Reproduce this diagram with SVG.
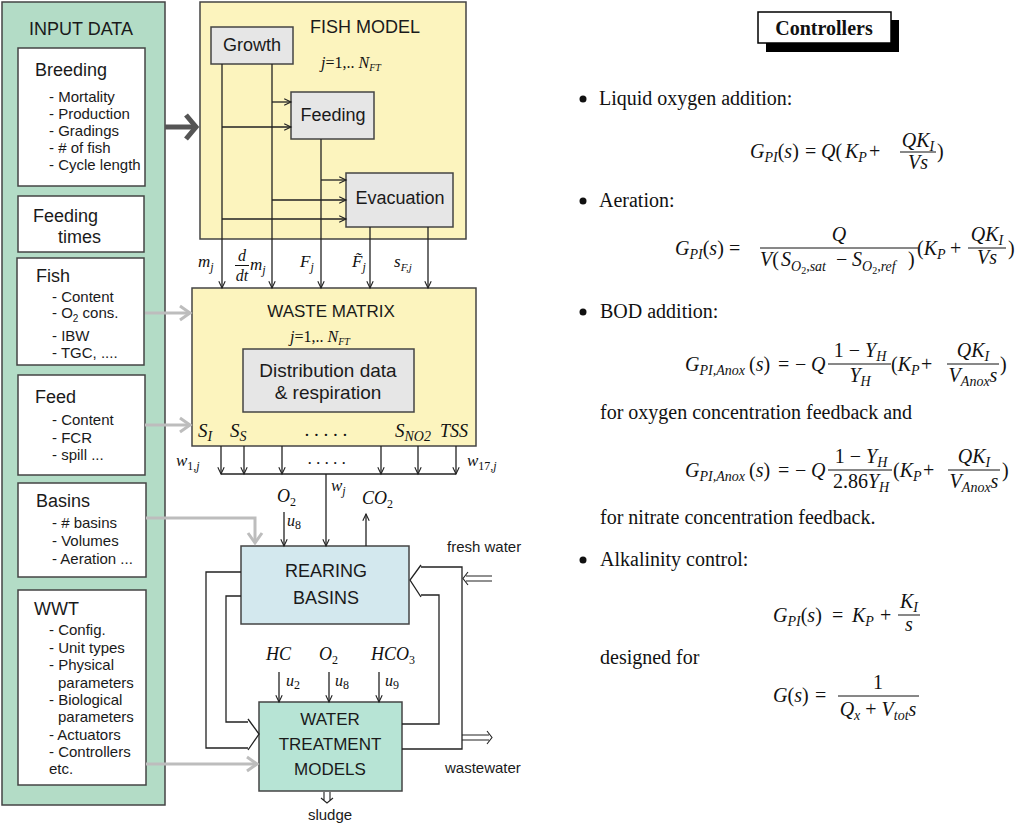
<svg xmlns="http://www.w3.org/2000/svg" width="1024" height="827" viewBox="0 0 1024 827">
<defs>
<style>
.sans{font-family:"Liberation Sans",Arial,sans-serif;fill:#1a1a1a}
.hd{font-size:18px}
.itm{font-size:15px}
.m{font-family:"Liberation Serif","Times New Roman",serif;font-style:italic;fill:#111}
.eq{font-family:"Liberation Serif","Times New Roman",serif;font-size:20px;fill:#111}
.body{font-family:"Liberation Serif","Times New Roman",serif;font-size:20px;fill:#111}
.i{font-style:italic}
.rm{font-style:normal}
.s{font-size:14px}
.ss{font-size:10px}
.box{stroke:#444;stroke-width:1.5}
.ln{fill:none;stroke:#222;stroke-width:1.3}
.arr{marker-end:url(#ah)}
.gray{fill:none;stroke:#bdbdbd;stroke-width:3;marker-end:url(#gah)}
.bar{stroke:#111;stroke-width:1}
</style>
<marker id="ah" viewBox="0 0 10 10" refX="9.5" refY="5" markerWidth="8" markerHeight="8" markerUnits="userSpaceOnUse" orient="auto" overflow="visible"><path d="M1,1 L9.5,5 L1,9" fill="none" stroke="#222" stroke-width="1.4"/></marker>
<marker id="gah" viewBox="0 0 12 16" refX="11" refY="8" markerWidth="12" markerHeight="16" markerUnits="userSpaceOnUse" orient="auto" overflow="visible"><path d="M1,1 L11,8 L1,15" fill="none" stroke="#bdbdbd" stroke-width="3"/></marker>
<marker id="dah" viewBox="0 0 14 28" refX="12" refY="14" markerWidth="14" markerHeight="28" markerUnits="userSpaceOnUse" orient="auto" overflow="visible"><path d="M2,2 L12,14 L2,26" fill="none" stroke="#555" stroke-width="5"/></marker>
</defs>
<rect width="1024" height="827" fill="#fff"/>

<!-- INPUT DATA panel -->
<g id="input-data">
<rect x="2" y="2" width="163" height="803" fill="#b3dcc6" class="box"/>
<text class="sans hd" x="81" y="35" text-anchor="middle">INPUT DATA</text>
</g>
<g id="breeding">
<rect x="18" y="48" width="127" height="138" fill="#fff" class="box"/>
<text class="sans hd" x="35" y="76">Breeding</text>
<text class="sans itm" x="49" y="102">- Mortality</text>
<text class="sans itm" x="49" y="119">- Production</text>
<text class="sans itm" x="49" y="136">- Gradings</text>
<text class="sans itm" x="49" y="153">- # of fish</text>
<text class="sans itm" x="49" y="170">- Cycle length</text>
</g>
<g id="feeding-times">
<rect x="18" y="196" width="126" height="56" fill="#fff" class="box"/>
<text class="sans hd" x="33" y="222">Feeding</text>
<text class="sans hd" x="58" y="243">times</text>
</g>
<g id="fish">
<rect x="17" y="258" width="127" height="107" fill="#fff" class="box"/>
<text class="sans hd" x="36" y="282">Fish</text>
<text class="sans itm" x="52" y="302">- Content</text>
<text class="sans itm" x="52" y="318">- O<tspan class="ss" dy="4">2</tspan><tspan dy="-4"> cons.</tspan></text>
<text class="sans itm" x="52" y="341">- IBW</text>
<text class="sans itm" x="52" y="358">- TGC, ....</text>
</g>
<g id="feed">
<rect x="18" y="375" width="127" height="100" fill="#fff" class="box"/>
<text class="sans hd" x="35" y="403">Feed</text>
<text class="sans itm" x="52" y="425">- Content</text>
<text class="sans itm" x="52" y="443">- FCR</text>
<text class="sans itm" x="52" y="460">- spill ...</text>
</g>
<g id="basins">
<rect x="18" y="483" width="128" height="94" fill="#fff" class="box"/>
<text class="sans hd" x="36" y="507">Basins</text>
<text class="sans itm" x="52" y="528">- # basins</text>
<text class="sans itm" x="52" y="546">- Volumes</text>
<text class="sans itm" x="52" y="564">- Aeration ...</text>
</g>
<g id="wwt">
<rect x="18" y="590" width="128" height="195" fill="#fff" class="box"/>
<text class="sans hd" x="34" y="615">WWT</text>
<text class="sans itm" x="49" y="635">- Config.</text>
<text class="sans itm" x="49" y="653">- Unit types</text>
<text class="sans itm" x="49" y="670">- Physical</text>
<text class="sans itm" x="58" y="688">parameters</text>
<text class="sans itm" x="49" y="705">- Biological</text>
<text class="sans itm" x="58" y="722">parameters</text>
<text class="sans itm" x="49" y="740">- Actuators</text>
<text class="sans itm" x="49" y="757">- Controllers</text>
<text class="sans itm" x="49" y="774">etc.</text>
</g>

<!-- FISH MODEL -->
<g id="fish-model">
<rect x="200" y="2" width="266" height="237" fill="#fcf4be" class="box"/>
<text class="sans hd" x="365" y="33" text-anchor="middle">FISH MODEL</text>
<text class="m" x="321" y="68" font-size="16">j<tspan class="rm">=1,.. </tspan>N<tspan font-size="10" dy="3">FT</tspan></text>
</g>
<g id="growth">
<rect x="211" y="27" width="82" height="37" fill="#e6e6e6" class="box"/>
<text class="sans hd" x="252" y="51" text-anchor="middle">Growth</text>
</g>
<g id="feeding">
<rect x="291" y="92" width="83" height="47" fill="#e6e6e6" class="box"/>
<text class="sans hd" x="333" y="121" text-anchor="middle">Feeding</text>
</g>
<g id="evacuation">
<rect x="346" y="173" width="107" height="54" fill="#e6e6e6" class="box"/>
<text class="sans hd" x="400" y="204" text-anchor="middle">Evacuation</text>
</g>

<!-- WASTE MATRIX -->
<g id="waste-matrix">
<rect x="192" y="288" width="284" height="158" fill="#fcf4be" class="box"/>
<text class="sans" font-size="17" x="331" y="317" text-anchor="middle">WASTE MATRIX</text>
<text class="m" x="290" y="342" font-size="16">j<tspan class="rm">=1,.. </tspan>N<tspan font-size="10" dy="3">FT</tspan></text>
<text class="m" font-size="19" x="198" y="437">S<tspan class="s" dy="4">I</tspan></text>
<text class="m" font-size="19" x="230" y="437">S<tspan class="s" dy="4">S</tspan></text>
<text class="m" font-size="19" x="305" y="436">. . . . .</text>
<text class="m" font-size="19" x="395" y="437">S<tspan class="s" dy="4">NO2</tspan></text>
<text class="m" font-size="18" x="440" y="437">TSS</text>
</g>
<g id="distribution">
<rect x="243" y="349" width="171" height="63" fill="#e6e6e6" class="box"/>
<text class="sans" font-size="19" x="328" y="377" text-anchor="middle">Distribution data</text>
<text class="sans" font-size="19" x="328" y="399" text-anchor="middle">&amp; respiration</text>
</g>

<!-- REARING BASINS -->
<g id="rearing-basins">
<rect x="241" y="546" width="168" height="78" fill="#d3e8ee" class="box"/>
<text class="sans hd" x="326" y="577" text-anchor="middle">REARING</text>
<text class="sans hd" x="326" y="604" text-anchor="middle">BASINS</text>
</g>
<!-- WATER TREATMENT -->
<g id="water-treatment">
<rect x="259" y="702" width="143" height="89" fill="#b7e4d5" class="box"/>
<text class="sans" font-size="17" x="330" y="725" text-anchor="middle">WATER</text>
<text class="sans" font-size="17" x="330" y="750" text-anchor="middle">TREATMENT</text>
<text class="sans" font-size="17" x="330" y="775" text-anchor="middle">MODELS</text>
</g>

<!-- connectors -->
<g id="connectors">
<path class="ln arr" d="M222,64 V288"/>
<path class="ln arr" d="M272,64 V288"/>
<path class="ln arr" d="M321,139 V288"/>
<path class="ln arr" d="M370,227 V288"/>
<path class="ln arr" d="M428,227 V288"/>
<path class="ln arr" d="M272,102 H291"/>
<path class="ln arr" d="M222,127 H291"/>
<path class="ln arr" d="M321,180 H346"/>
<path class="ln arr" d="M272,200 H346"/>
<path class="ln arr" d="M222,219 H346"/>
<path d="M165,127 H196" fill="none" stroke="#555" stroke-width="5" marker-end="url(#dah)"/>
<path class="gray" d="M145,313 H190"/>
<path class="gray" d="M145,425 H190"/>
<path class="gray" d="M146,518 H255 V543"/>
<path class="gray" d="M146,764 H257"/>
<path class="ln arr" d="M221,446 V474"/>
<path class="ln arr" d="M244,446 V474"/>
<path class="ln arr" d="M282,446 V474"/>
<path class="ln arr" d="M381,446 V474"/>
<path class="ln arr" d="M418,446 V474"/>
<path class="ln arr" d="M456,446 V474"/>
<path class="ln" d="M221,474 H456"/>
<path class="ln arr" d="M326,474 V546"/>
<path class="ln arr" d="M284,512 V546"/>
<path class="ln arr" d="M366,546 V514"/>
<path class="ln" d="M241,572 H206 V748 H248"/>
<path class="ln" d="M241,596 H226 V722 H248"/>
<path class="ln" d="M248,719 L259,734 L248,750"/>
<path class="ln" d="M402,749 H462 V567 H421"/>
<path class="ln" d="M402,724 H439 V595 H421"/>
<path class="ln" d="M421,565 L410,580 L421,597"/>
<path class="ln arr" d="M279,672 V702"/>
<path class="ln arr" d="M329,672 V702"/>
<path class="ln arr" d="M379,672 V702"/>
<path fill="none" stroke="#222" stroke-width="1.1" d="M492,576 H466 M492,581 H466 M468,572 L463,578.5 L468,585"/>
<path fill="none" stroke="#222" stroke-width="1.1" d="M462,735 H489 M462,740 H489 M487,731 L492,737.5 L487,744"/>
<path fill="none" stroke="#222" stroke-width="1.1" d="M324,792 V800 M330,792 V800 M321,798 L327,803 L333,798"/>
</g>

<!-- labels -->
<g id="labels">
<text class="m" font-size="17" x="198" y="267">m<tspan font-size="12" dy="4">j</tspan></text>
<text class="m" font-size="16" x="242" y="261" text-anchor="middle">d</text>
<line class="bar" x1="235" y1="265.5" x2="249" y2="265.5"/>
<text class="m" font-size="16" x="242" y="281" text-anchor="middle">dt</text>
<text class="m" font-size="17" x="250" y="270">m<tspan font-size="12" dy="4">j</tspan></text>
<text class="m" font-size="17" x="300" y="267">F<tspan font-size="12" dy="4">j</tspan></text>
<text class="m" font-size="17" x="352" y="267">F&#771;<tspan font-size="12" dy="4">j</tspan></text>
<text class="m" font-size="17" x="394" y="267">s<tspan font-size="11" dy="4">F,j</tspan></text>
<text class="m" font-size="17" x="176" y="466">w<tspan font-size="12" dy="4" class="rm">1,</tspan><tspan font-size="12">j</tspan></text>
<text class="m" font-size="17" x="308" y="464">. . . . .</text>
<text class="m" font-size="17" x="467" y="466">w<tspan font-size="12" dy="4" class="rm">17,</tspan><tspan font-size="12">j</tspan></text>
<text class="m" font-size="17" x="331" y="491">w<tspan font-size="12" dy="4">j</tspan></text>
<text class="m" font-size="18" x="277" y="502">O<tspan font-size="12" dy="4" class="rm">2</tspan></text>
<text class="m" font-size="16" x="287" y="526">u<tspan font-size="12" dy="3" class="rm">8</tspan></text>
<text class="m" font-size="18" x="362" y="504">CO<tspan font-size="12" dy="4" class="rm">2</tspan></text>
<text class="m" font-size="18" x="266" y="660">HC</text>
<text class="m" font-size="18" x="319" y="660">O<tspan font-size="12" dy="4" class="rm">2</tspan></text>
<text class="m" font-size="18" x="371" y="660">HCO<tspan font-size="12" dy="4" class="rm">3</tspan></text>
<text class="m" font-size="16" x="286" y="686">u<tspan font-size="12" dy="3" class="rm">2</tspan></text>
<text class="m" font-size="16" x="335" y="686">u<tspan font-size="12" dy="3" class="rm">8</tspan></text>
<text class="m" font-size="16" x="385" y="686">u<tspan font-size="12" dy="3" class="rm">9</tspan></text>
<text class="sans" font-size="15" x="447" y="552">fresh water</text>
<text class="sans" font-size="15" x="445" y="773">wastewater</text>
<text class="sans" font-size="15" x="330" y="820" text-anchor="middle">sludge</text>
</g>

<!-- Controllers panel -->
<g id="controllers">
<rect x="766" y="20" width="133" height="32" fill="#000"/>
<rect x="758" y="12" width="133" height="31" fill="#fff" stroke="#000" stroke-width="1.5"/>
<text class="body" font-weight="bold" font-size="24" x="824" y="35" text-anchor="middle">Controllers</text>

<circle cx="583" cy="99" r="3.5" fill="#111"/>
<text class="body" x="599" y="105">Liquid oxygen addition:</text>
<text class="eq" y="158"><tspan x="750" class="i">G</tspan><tspan class="i s" dy="4">PI</tspan><tspan dy="-4">(</tspan><tspan class="i">s</tspan>)<tspan x="805">=</tspan><tspan x="821" class="i">Q</tspan>(<tspan x="845" class="i">K</tspan><tspan class="i s" dy="4">P</tspan><tspan x="869" dy="-4">+</tspan></text>
<text class="eq" x="918" y="147" text-anchor="middle"><tspan class="i">QK</tspan><tspan class="i s" dy="4">I</tspan></text>
<line class="bar" x1="900" y1="152" x2="936" y2="152"/>
<text class="eq i" x="918" y="169" text-anchor="middle">Vs</text>
<text class="eq" x="937" y="158">)</text>

<circle cx="583" cy="201" r="3.5" fill="#111"/>
<text class="body" x="599" y="207">Aeration:</text>
<text class="eq" y="255"><tspan x="675" class="i">G</tspan><tspan class="i s" dy="4">PI</tspan><tspan dy="-4">(</tspan><tspan class="i">s</tspan>)<tspan x="729">=</tspan></text>
<text class="eq i" x="839" y="241" text-anchor="middle">Q</text>
<line class="bar" x1="760" y1="248" x2="918" y2="248"/>
<text class="eq" y="266"><tspan x="760" class="i">V</tspan>(<tspan x="781" class="i">S</tspan><tspan class="i s" dy="5">O</tspan><tspan class="ss" dy="3">2</tspan><tspan class="i s" dy="-3">,sat</tspan><tspan x="836" dy="-5">−</tspan><tspan x="852" class="i">S</tspan><tspan class="i s" dy="5">O</tspan><tspan class="ss" dy="3">2</tspan><tspan class="i s" dy="-3">,ref</tspan><tspan x="908" dy="-5">)</tspan></text>
<text class="eq" y="255"><tspan x="917">(</tspan><tspan class="i">K</tspan><tspan class="i s" dy="4">P</tspan><tspan x="950" dy="-4">+</tspan></text>
<text class="eq" x="987" y="241" text-anchor="middle"><tspan class="i">QK</tspan><tspan class="i s" dy="4">I</tspan></text>
<line class="bar" x1="968" y1="248" x2="1006" y2="248"/>
<text class="eq i" x="987" y="264" text-anchor="middle">Vs</text>
<text class="eq" x="1008" y="255">)</text>

<circle cx="583" cy="312" r="3.5" fill="#111"/>
<text class="body" x="600" y="318">BOD addition:</text>
<text class="eq" y="371"><tspan x="685" class="i">G</tspan><tspan class="i s" dy="4">PI,Anox</tspan><tspan x="749" dy="-4">(</tspan><tspan class="i">s</tspan>)<tspan x="778">=</tspan><tspan x="795">−</tspan><tspan x="811" class="i">Q</tspan></text>
<text class="eq" x="860" y="357" text-anchor="middle">1 − <tspan class="i">Y</tspan><tspan class="i s" dy="4">H</tspan></text>
<line class="bar" x1="828" y1="364" x2="891" y2="364"/>
<text class="eq" x="860" y="382" text-anchor="middle"><tspan class="i">Y</tspan><tspan class="i s" dy="4">H</tspan></text>
<text class="eq" y="371"><tspan x="891">(</tspan><tspan class="i">K</tspan><tspan class="i s" dy="4">P</tspan><tspan x="921" dy="-4">+</tspan></text>
<text class="eq" x="973" y="357" text-anchor="middle"><tspan class="i">QK</tspan><tspan class="i s" dy="4">I</tspan></text>
<line class="bar" x1="947" y1="364" x2="999" y2="364"/>
<text class="eq" x="973" y="382" text-anchor="middle"><tspan class="i">V</tspan><tspan class="i s" dy="4">Anox</tspan><tspan class="i" dy="-4">s</tspan></text>
<text class="eq" x="1000" y="371">)</text>

<text class="body" x="600" y="419">for oxygen concentration feedback and</text>
<text class="eq" y="477"><tspan x="685" class="i">G</tspan><tspan class="i s" dy="4">PI,Anox</tspan><tspan x="749" dy="-4">(</tspan><tspan class="i">s</tspan>)<tspan x="778">=</tspan><tspan x="795">−</tspan><tspan x="811" class="i">Q</tspan></text>
<text class="eq" x="861" y="463" text-anchor="middle">1 − <tspan class="i">Y</tspan><tspan class="i s" dy="4">H</tspan></text>
<line class="bar" x1="828" y1="470" x2="892" y2="470"/>
<text class="eq" x="861" y="488" text-anchor="middle">2.86<tspan class="i">Y</tspan><tspan class="i s" dy="4">H</tspan></text>
<text class="eq" y="477"><tspan x="893">(</tspan><tspan class="i">K</tspan><tspan class="i s" dy="4">P</tspan><tspan x="923" dy="-4">+</tspan></text>
<text class="eq" x="974" y="463" text-anchor="middle"><tspan class="i">QK</tspan><tspan class="i s" dy="4">I</tspan></text>
<line class="bar" x1="948" y1="470" x2="1000" y2="470"/>
<text class="eq" x="974" y="488" text-anchor="middle"><tspan class="i">V</tspan><tspan class="i s" dy="4">Anox</tspan><tspan class="i" dy="-4">s</tspan></text>
<text class="eq" x="1002" y="477">)</text>
<text class="body" x="600" y="524">for nitrate concentration feedback.</text>

<circle cx="583" cy="560" r="3.5" fill="#111"/>
<text class="body" x="600" y="566">Alkalinity control:</text>
<text class="eq" y="622"><tspan x="773" class="i">G</tspan><tspan class="i s" dy="4">PI</tspan><tspan dy="-4">(</tspan><tspan class="i">s</tspan>)<tspan x="832">=</tspan><tspan x="852" class="i">K</tspan><tspan class="i s" dy="4">P</tspan><tspan x="880" dy="-4">+</tspan></text>
<text class="eq" x="909" y="608" text-anchor="middle"><tspan class="i">K</tspan><tspan class="i s" dy="4">I</tspan></text>
<line class="bar" x1="898" y1="615" x2="920" y2="615"/>
<text class="eq i" x="909" y="631" text-anchor="middle">s</text>

<text class="body" x="600" y="664">designed for</text>
<text class="eq" y="702"><tspan x="773" class="i">G</tspan>(<tspan class="i">s</tspan>)<tspan x="815">=</tspan></text>
<text class="eq" x="878" y="689" text-anchor="middle">1</text>
<line class="bar" x1="838" y1="696" x2="919" y2="696"/>
<text class="eq" x="878" y="716" text-anchor="middle"><tspan class="i">Q</tspan><tspan class="i s" dy="4">x</tspan><tspan dy="-4"> + </tspan><tspan class="i">V</tspan><tspan class="i s" dy="4">tot</tspan><tspan class="i" dy="-4">s</tspan></text>
</g>
</svg>
